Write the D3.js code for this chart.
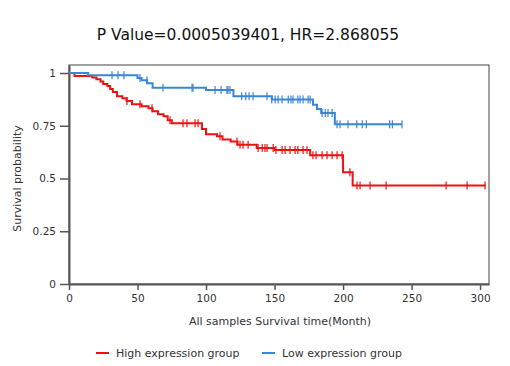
<!DOCTYPE html>
<html>
<head>
<meta charset="utf-8">
<script src="https://cdn.jsdelivr.net/npm/d3@7"></script>
<style>
  body { margin: 0; background: #fff; }
  text { font-family: "DejaVu Sans", sans-serif; fill: #333; }
</style>
</head>
<body>
<div id="chart"></div>
<script>
// survival steps: [time, survival after step]
var highSteps = [[0, 1], [4, 0.986], [17, 0.979], [20, 0.971], [23, 0.96], [25, 0.948], [28, 0.938],
    [30, 0.924], [32, 0.91], [35, 0.89], [39, 0.88], [42, 0.867], [46, 0.852], [53, 0.843],
    [58, 0.833], [61, 0.819], [65, 0.805], [69, 0.795], [72, 0.776], [75, 0.762],
    [97, 0.735], [100, 0.71], [108, 0.7], [112, 0.685], [118, 0.675], [123, 0.66],
    [137, 0.645], [150, 0.635], [176, 0.61], [200, 0.53], [207, 0.467]];
var highEnd = 304;
var highCensor = [42.3, 51.8, 60.6, 73.7, 83.2, 86.1, 92, 94.2, 110.2, 122.6, 124.8, 127, 130.7,
    138, 141, 143, 144.5, 149, 151, 155.5, 157.7, 161.3, 165, 167, 170.8, 173.7, 178, 180.3,
    184.7, 188.3, 192, 195.6, 199.3, 205, 210.2, 212.4, 219.7, 231.4, 275.2, 290.5, 303.6];

var lowSteps = [[0, 1], [14, 0.99], [50, 0.976], [53, 0.966], [57, 0.952], [61, 0.93],
    [100, 0.92], [120, 0.89], [148, 0.875], [178, 0.85], [181, 0.83], [184, 0.81], [194, 0.757]];
var lowEnd = 243;
var lowCensor = [31.4, 35.8, 40.1, 51.8, 56.9, 68.6, 89.8, 90.5, 106.6, 111, 115.3, 116, 117.5,
    126, 129, 131.4, 134.3, 144.5, 148, 150.4, 152.6, 155.5, 160, 162, 163.5, 167, 168.6,
    170.8, 174.5, 176, 184.7, 187, 189, 192, 195.6, 197.8, 203.6, 210, 214, 217, 234, 236, 243];

var xTicks = [0, 50, 100, 150, 200, 250, 300];
var yTicks = [0, 0.25, 0.5, 0.75, 1];
var groups = ["High expression group", "Low expression group"];
var colors = ["#ee1111", "#3a86d6"];

var width = 510, height = 366;
var margin = {left: 69, top: 65, right: 21, bottom: 82};

var svg = d3.select('#chart').append('svg')
    .attr('width', width)
    .attr('height', height);

var x = d3.scaleLinear().domain([0, 306.5]).range([margin.left, width - margin.right]);
var y = d3.scaleLinear().domain([0, 1.038]).range([height - margin.bottom, margin.top]);

svg.append("text")
    .attr("x", 248).attr("y", 40)
    .attr("text-anchor", "middle")
    .style("font-size", "15.5px")
    .style("fill", "#111")
    .text("P Value=0.0005039401, HR=2.868055");

// frame
svg.append("rect")
    .attr("x", x(0)).attr("y", y(1.038))
    .attr("width", x(306.5) - x(0)).attr("height", y(0) - y(1.038))
    .attr("fill", "none").attr("stroke", "#444").attr("stroke-width", 1);

var xAxis = svg.append("g")
    .attr("transform", "translate(0," + y(0) + ")")
    .call(d3.axisBottom(x).tickValues(xTicks).tickSize(6).tickPadding(5).tickSizeOuter(0));
var yAxis = svg.append("g")
    .attr("transform", "translate(" + x(0) + ",0)")
    .call(d3.axisLeft(y).tickValues(yTicks).tickSize(9).tickPadding(4).tickSizeOuter(0)
        .tickFormat(function (d) { return d; }));

[xAxis, yAxis].forEach(function (a) {
    a.select(".domain").attr("stroke", "#555").attr("stroke-width", 2);
    a.selectAll(".tick line").attr("stroke", "#555").attr("stroke-width", 1.5);
    a.selectAll(".tick text").style("font-size", "10.5px").style("fill", "#333")
        .style("font-family", "DejaVu Sans, sans-serif");
});

svg.append("text")
    .attr("x", 280).attr("y", 325)
    .attr("text-anchor", "middle")
    .style("font-size", "11px")
    .text("All samples Survival time(Month)");

svg.append("text")
    .attr("transform", "translate(21," + y(0.5) + ") rotate(-90)")
    .attr("text-anchor", "middle")
    .style("font-size", "11px")
    .text("Survival probability");

function stepPath(steps, end) {
    var pts = steps.concat([[end, steps[steps.length - 1][1]]]);
    return d3.line().curve(d3.curveStepAfter)
        .x(function (d) { return x(d[0]); })
        .y(function (d) { return y(d[1]); })(pts);
}

function survAt(steps, t) {
    var s = 1;
    steps.forEach(function (d) { if (d[0] <= t) s = d[1]; });
    return s;
}

var series = [[highSteps, highEnd, highCensor], [lowSteps, lowEnd, lowCensor]];

series.forEach(function (sr, i) {
    var g = svg.append("g");
    g.append("path")
        .attr("d", stepPath(sr[0], sr[1]))
        .attr("fill", "none")
        .attr("stroke", colors[i])
        .attr("stroke-width", 2);
    g.selectAll("line")
        .data(sr[2])
        .enter().append("line")
        .attr("x1", function (d) { return x(d); })
        .attr("x2", function (d) { return x(d); })
        .attr("y1", function (d) { return y(survAt(sr[0], d)) - 4; })
        .attr("y2", function (d) { return y(survAt(sr[0], d)) + 4; })
        .attr("stroke", colors[i])
        .attr("stroke-width", 1.2);
});

// legend
var legend = svg.append("g").attr("transform", "translate(96,353)");
var lg = legend.selectAll("g")
    .data(groups)
    .enter().append("g")
    .attr("transform", function (d, i) { return "translate(" + (i * 166) + ",0)"; });
lg.append("line")
    .attr("x1", 0).attr("x2", 13)
    .attr("stroke", function (d, i) { return colors[i]; })
    .attr("stroke-width", 2);
lg.append("text")
    .attr("x", 20).attr("y", 4)
    .style("font-size", "11px")
    .text(function (d) { return d; });
</script>
</body>
</html>
